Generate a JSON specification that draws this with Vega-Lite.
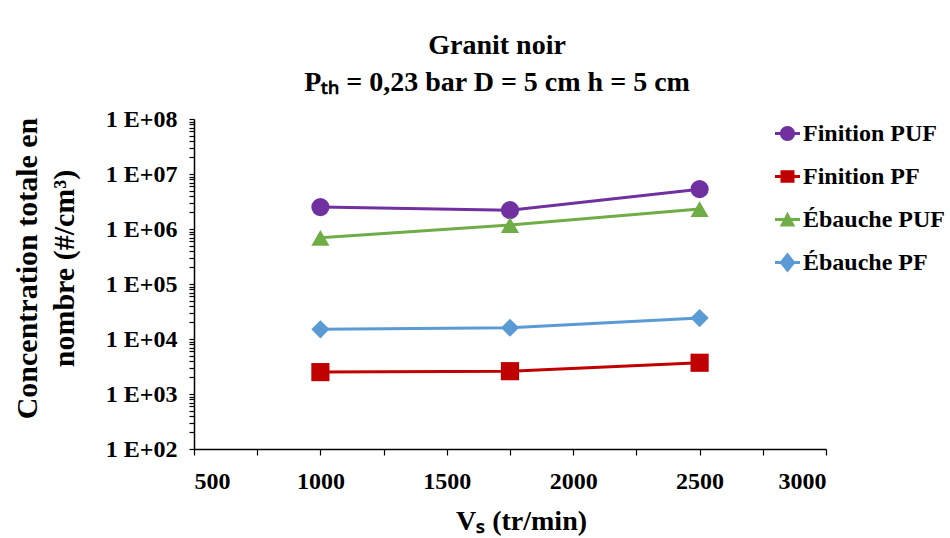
{
  "$schema": "https://vega.github.io/schema/vega-lite/v6.json",
  "width": 632,
  "height": 330,
  "autosize": {"type": "none"},
  "padding": {"left": 194, "top": 119, "right": 124, "bottom": 89},
  "background": "white",
  "config": {
    "font": "Liberation Serif",
    "view": {"stroke": null},
    "axis": {
      "grid": false,
      "domainColor": "black",
      "domainWidth": 1.5,
      "tickColor": "black",
      "tickWidth": 1.2,
      "labelColor": "black",
      "titleColor": "black",
      "labelFont": "Liberation Serif",
      "titleFont": "Liberation Serif",
      "labelFontWeight": "bold",
      "titleFontWeight": "bold",
      "labelOverlap": false
    },
    "legend": {"labelFont": "Liberation Serif"},
    "title": {"font": "Liberation Serif"}
  },
  "title": {
    "text": ["Granit noir", "Pₜₕ = 0,23 bar D = 5 cm h = 5 cm"],
    "font": "Liberation Serif",
    "fontSize": 28,
    "fontWeight": "bold",
    "color": "black",
    "anchor": "middle",
    "frame": "group",
    "dx": -13,
    "offset": 10,
    "lineHeight": 37
  },
  "data": {
    "values": [
      {"vs": 1000, "conc": 2500000, "serie": "Finition PUF"},
      {"vs": 1750, "conc": 2200000, "serie": "Finition PUF"},
      {"vs": 2500, "conc": 5300000, "serie": "Finition PUF"},
      {"vs": 1000, "conc": 2500, "serie": "Finition PF"},
      {"vs": 1750, "conc": 2600, "serie": "Finition PF"},
      {"vs": 2500, "conc": 3700, "serie": "Finition PF"},
      {"vs": 1000, "conc": 690000, "serie": "Ébauche PUF"},
      {"vs": 1750, "conc": 1180000, "serie": "Ébauche PUF"},
      {"vs": 2500, "conc": 2300000, "serie": "Ébauche PUF"},
      {"vs": 1000, "conc": 15000, "serie": "Ébauche PF"},
      {"vs": 1750, "conc": 16000, "serie": "Ébauche PF"},
      {"vs": 2500, "conc": 24000, "serie": "Ébauche PF"}
    ]
  },
  "encoding": {
    "x": {
      "field": "vs",
      "type": "quantitative",
      "scale": {"domain": [500, 3000], "nice": false, "zero": false},
      "axis": {
        "title": "Vₛ (tr/min)",
        "titleFont": "Liberation Serif",
        "titleFontSize": 28,
        "titleX": 327,
        "titlePadding": 14,
        "values": [500, 750, 1000, 1250, 1500, 1750, 2000, 2250, 2500, 2750, 3000],
        "labelExpr": "datum.value % 500 === 0 ? '' + datum.value : ''",
        "labelFont": "Liberation Serif",
        "labelFontSize": 24,
        "labelPadding": 14,
        "tickSize": 6
      }
    },
    "y": {
      "field": "conc",
      "type": "quantitative",
      "scale": {"type": "log", "domain": [100, 100000000], "nice": false},
      "axis": {
        "title": ["Concentration totale en", "nombre (#/cm³)"],
        "titleFont": "Liberation Serif",
        "titleFontSize": 30,
        "titleLineHeight": 37,
        "titleAngle": -90,
        "titleAlign": "center",
        "titleBaseline": "middle",
        "titleX": -167,
        "titleY": 149,
        "values": [100, 200, 300, 400, 500, 600, 700, 800, 900,
                   1000, 2000, 3000, 4000, 5000, 6000, 7000, 8000, 9000,
                   10000, 20000, 30000, 40000, 50000, 60000, 70000, 80000, 90000,
                   100000, 200000, 300000, 400000, 500000, 600000, 700000, 800000, 900000,
                   1000000, 2000000, 3000000, 4000000, 5000000, 6000000, 7000000, 8000000, 9000000,
                   10000000, 20000000, 30000000, 40000000, 50000000, 60000000, 70000000, 80000000, 90000000,
                   100000000],
        "labelExpr": "abs(log(datum.value)/LN10 - round(log(datum.value)/LN10)) < 0.000001 ? '1 E+0' + round(log(datum.value)/LN10) : ''",
        "labelFont": "Liberation Serif",
        "labelFontSize": 24,
        "labelPadding": 12,
        "tickSize": 5
      }
    }
  },
  "layer": [
    {
      "mark": {"type": "line", "strokeWidth": 3},
      "encoding": {
        "color": {
          "field": "serie",
          "type": "nominal",
          "scale": {
            "domain": ["Finition PUF", "Finition PF", "Ébauche PUF", "Ébauche PF"],
            "range": ["#7030A0", "#C00000", "#70AD47", "#5B9BD5"]
          },
          "legend": {
            "title": null,
            "orient": "none",
            "legendX": 581,
            "legendY": 2,
            "padding": 0,
            "symbolSize": 625,
            "rowPadding": 18,
            "labelOffset": 3,
            "labelFont": "Liberation Serif",
            "labelFontSize": 24,
            "labelFontWeight": "bold",
            "labelColor": "black",
            "labelLimit": 300,
            "encode": {
              "symbols": {
                "update": {
                  "shape": {"signal": "datum.value === 'Finition PUF' ? 'M-0.6,0A0.6,0.6 0 1,1 0.6,0A0.6,0.6 0 1,1 -0.6,0Z M-1,-0.12L1,-0.12L1,0.12L-1,0.12Z' : datum.value === 'Finition PF' ? 'M-0.56,-0.5L0.56,-0.5L0.56,0.5L-0.56,0.5Z M-1,-0.12L1,-0.12L1,0.12L-1,0.12Z' : datum.value === 'Ébauche PUF' ? 'M-0.62,0.55L0,-0.62L0.62,0.55Z M-1,-0.12L1,-0.12L1,0.12L-1,0.12Z' : 'M0,-0.8L0.64,0L0,0.8L-0.64,0Z M-1,-0.12L1,-0.12L1,0.12L-1,0.12Z'"},
                  "fill": {"signal": "scale('color', datum.value)"},
                  "fillOpacity": {"value": 1},
                  "strokeWidth": {"value": 0},
                  "size": {"value": 625}
                }
              }
            }
          }
        }
      }
    },
    {
      "mark": {"type": "point", "filled": true, "opacity": 1, "strokeWidth": 0, "size": 330},
      "encoding": {
        "color": {"field": "serie", "type": "nominal", "legend": null},
        "shape": {
          "field": "serie",
          "type": "nominal",
          "scale": {
            "domain": ["Finition PUF", "Finition PF", "Ébauche PUF", "Ébauche PF"],
            "range": ["circle", "square", "triangle-up", "diamond"]
          },
          "legend": null
        }
      }
    }
  ],
  "resolve": {"legend": {"color": "independent"}}
}
